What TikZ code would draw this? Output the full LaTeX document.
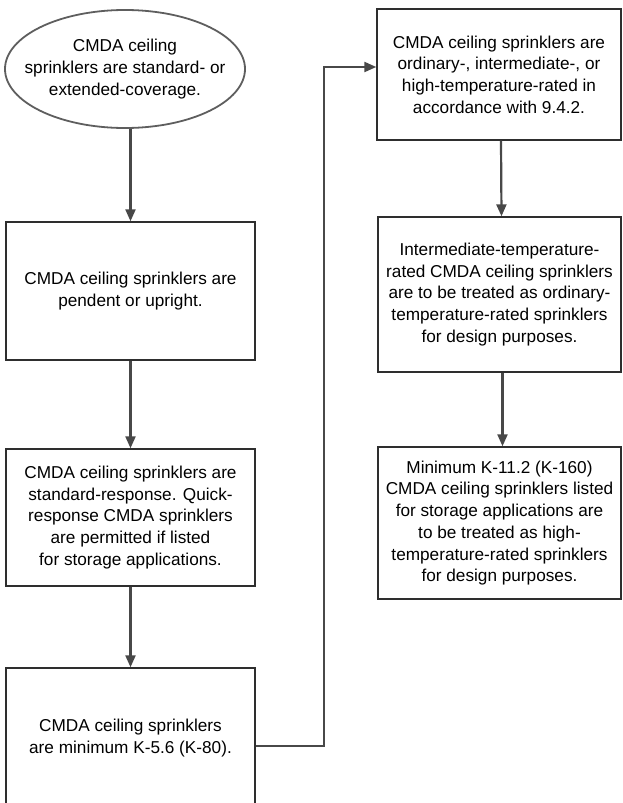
\documentclass[tikz,border=0pt]{standalone}
\usepackage{fontspec}
\setmainfont{Liberation Sans}
\usepackage{tikz}
\usetikzlibrary{arrows.meta}
\usetikzlibrary{shapes.geometric}

\definecolor{boxline}{HTML}{2E2E2E}
\definecolor{flowline}{HTML}{484848}
\definecolor{ovalline}{HTML}{5E5E5E}

\begin{document}
\begin{tikzpicture}[
        x=1pt, y=-1pt,
        font=\fontsize{17.2}{21.7}\selectfont,
        % Oval for the starting statement
        startoval/.style={ellipse, draw=ovalline, line width=1.8pt, align=center, minimum width=240pt, minimum height=118pt, inner xsep=-18pt, inner ysep=0pt},
        % Plain rectangular step boxes
        stepbox/.style={rectangle, draw=boxline, line width=1.4pt, align=center, inner sep=2pt},
        % Grey connectors with a filled tip
        flowarrow/.style={draw=flowline, line width=2.2pt, -{Triangle[length=12pt, width=10pt]}}
    ]
    \useasboundingbox (0,0) rectangle (622,803);

    % --- left column ---
    \node[startoval] (Start) at (125, 69) {CMDA ceiling\\sprinklers are standard- or\\extended-coverage.};
    \node[stepbox, minimum width=249pt, minimum height=138pt] (Mount) at (130.5, 291) {CMDA ceiling sprinklers are\\pendent or upright.};
    \node[stepbox, minimum width=249pt, minimum height=137pt] (Response) at (130.5, 517.5) {CMDA ceiling sprinklers are\\standard-response. Quick-\\response CMDA sprinklers\\are permitted if listed\\for storage applications.};
    \node[stepbox, minimum width=249pt, minimum height=140pt] (Kfactor) at (130.5, 738) {CMDA ceiling sprinklers\\are minimum K-5.6 (K-80).};

    % --- right column ---
    \node[stepbox, minimum width=244pt, minimum height=131pt] (Rating) at (499, 74.5) {CMDA ceiling sprinklers are\\ordinary-, intermediate-, or\\high-temperature-rated in\\accordance with 9.4.2.};
    \node[stepbox, minimum width=243pt, minimum height=155pt] (Intermediate) at (499.5, 294.5) {Intermediate-temperature-\\rated CMDA ceiling sprinklers\\are to be treated as ordinary-\\temperature-rated sprinklers\\for design purposes.};
    \node[stepbox, minimum width=243pt, minimum height=152pt] (Large) at (499.5, 523) {Minimum K-11.2 (K-160)\\CMDA ceiling sprinklers listed\\for storage applications are\\to be treated as high-\\temperature-rated sprinklers\\for design purposes.};

    % --- connectors ---
    \draw[flowarrow] (Mount.north |- Start.south) -- (Mount.north);
    \draw[flowarrow] (Mount.south) -- (Response.north);
    \draw[flowarrow] (Response.south) -- (Kfactor.north);

    % jump over to the top of the right column
    \coordinate (bend) at (324, 746);
    \draw[flowarrow] ([yshift=-8pt]Kfactor.east) -- (bend) |- ([yshift=7.5pt]Rating.west);

    \draw[flowarrow] ([xshift=2pt]Rating.south) -- ([xshift=2pt]Intermediate.north);
    \draw[flowarrow] ([xshift=3pt]Intermediate.south) -- ([xshift=3pt]Large.north);

\end{tikzpicture}
\end{document}
